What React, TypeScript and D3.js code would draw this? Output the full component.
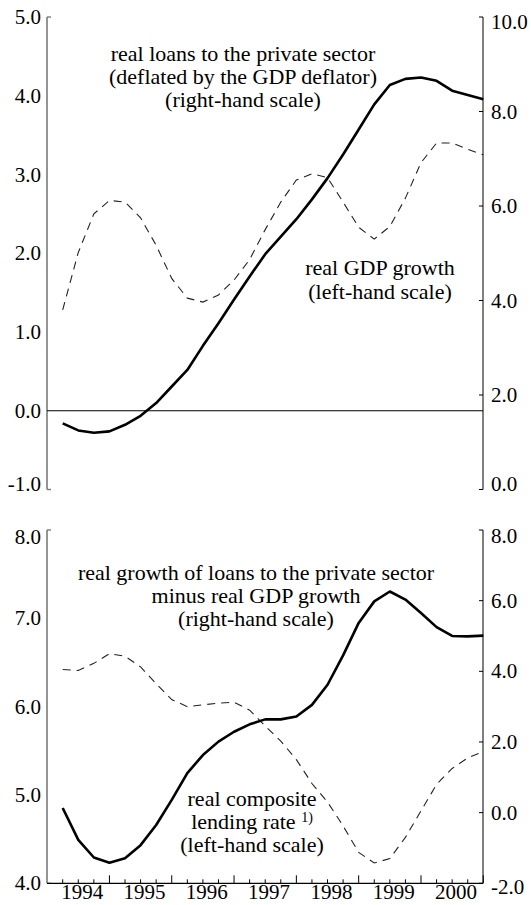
import React from 'react';
import * as d3 from 'd3';

// Quarterly data, 1994 Q1 - 2000 Q4
const years = ['1994', '1995', '1996', '1997', '1998', '1999', '2000'];

// top panel
const realLoans = [1.40, 1.25, 1.20, 1.23, 1.37, 1.56, 1.83, 2.18, 2.53, 3.04, 3.52, 4.02, 4.51, 4.98,
  5.35, 5.72, 6.14, 6.59, 7.09, 7.62, 8.15, 8.56, 8.69, 8.72, 8.65, 8.44, 8.35, 8.26];
const realGdp = [1.28, 2.01, 2.50, 2.67, 2.65, 2.45, 2.10, 1.68, 1.43, 1.38, 1.47, 1.66, 1.92, 2.30,
  2.65, 2.93, 3.01, 2.96, 2.65, 2.33, 2.18, 2.34, 2.70, 3.15, 3.40, 3.40, 3.32, 3.25];

// bottom panel
const loansMinusGdp = [0.13, -0.77, -1.27, -1.42, -1.29, -0.92, -0.35, 0.36, 1.12, 1.63, 2.01, 2.29, 2.50, 2.64,
  2.64, 2.72, 3.05, 3.62, 4.45, 5.37, 5.98, 6.26, 6.03, 5.65, 5.25, 5.00, 4.99, 5.01];
const lendingRate = [6.42, 6.41, 6.49, 6.60, 6.57, 6.45, 6.26, 6.08, 6.00, 6.02, 6.04, 6.05, 5.96, 5.78,
  5.61, 5.40, 5.13, 4.92, 4.65, 4.35, 4.23, 4.28, 4.52, 4.82, 5.12, 5.30, 5.42, 5.49];

const topLeftTicks = [-1, 0, 1, 2, 3, 4, 5];
const topRightTicks = [0, 2, 4, 6, 8, 10];
const botLeftTicks = [4, 5, 6, 7, 8];
const botRightTicks = [-2, 0, 2, 4, 6, 8];

const FONT = '"Liberation Serif", "Times New Roman", serif';
const FS = 21;
const FA = 22;

const AX_L = 47;
const AX_R = 483;

const fmt = (v: number) => d3.format('.1f')(v).replace('\u2212', '-');

export default function App() {
  const n = realLoans.length;
  const x = d3.scaleLinear().domain([0, n - 1]).range([62.7, 483.3]);

  const yTL = d3.scaleLinear().domain([-1, 5]).range([489.5, 17]);
  const yTR = d3.scaleLinear().domain([0, 10]).range([489.5, 17]);
  const yBL = d3.scaleLinear().domain([4, 8]).range([883.3, 530]);
  const yBR = d3.scaleLinear().domain([-2, 8]).range([883.3, 530]);

  const mk = (y: d3.ScaleLinear<number, number>) =>
    d3.line<number>().x((_, i) => x(i)).y((d) => y(d)).curve(d3.curveLinear);

  const leftAxis = (y: d3.ScaleLinear<number, number>, ticks: number[], nudge: Record<string, number>) => {
    const [d0, d1] = y.domain();
    return (
      <g>
        <line x1={AX_L} x2={AX_L} y1={y(d0)} y2={y(d1)} stroke="#7a7a7a" strokeWidth={1.6} />
        <line x1={AX_L} x2={AX_L + 4} y1={y(d1)} y2={y(d1)} stroke="#7a7a7a" strokeWidth={1.4} />
        <line x1={AX_L} x2={AX_L + 4} y1={y(d0)} y2={y(d0)} stroke="#7a7a7a" strokeWidth={1.4} />
        {ticks.map((t) => (
          <text key={t} x={41} y={y(t) + (nudge[String(t)] || 0)} dy="0.34em" textAnchor="end"
            fontFamily={FONT} fontSize={FS} fill="#000">{fmt(t)}</text>
        ))}
      </g>
    );
  };

  const rightAxis = (y: d3.ScaleLinear<number, number>, ticks: number[], nudge: Record<string, number>) => {
    const [d0, d1] = y.domain();
    return (
      <g>
        <line x1={AX_R} x2={AX_R} y1={y(d0)} y2={y(d1)} stroke="#000" strokeWidth={1} />
        {ticks.map((t) => (
          <line key={'t' + t} x1={AX_R - 4} x2={AX_R} y1={y(t)} y2={y(t)} stroke="#000" strokeWidth={1} />
        ))}
        {ticks.map((t) => (
          <text key={t} x={491} y={y(t) + (nudge[String(t)] || 0)} dy="0.34em" textAnchor="start"
            fontFamily={FONT} fontSize={FS} fill="#000">{fmt(t)}</text>
        ))}
      </g>
    );
  };

  const tickIdx = d3.range(0, n);

  return (
    <svg width={531} height={905} style={{ position: 'absolute', left: 0, top: 0, background: '#fff' }}>
      <rect x={0} y={0} width={531} height={905} fill="#fff" />

      {/* ---------- top panel ---------- */}
      {leftAxis(yTL, topLeftTicks, { '-1': -6 })}
      {rightAxis(yTR, topRightTicks, { '0': -6, '10': 5 })}
      <line x1={AX_L} x2={AX_R} y1={yTL(0)} y2={yTL(0)} stroke="#000" strokeWidth={1} />
      <path d={mk(yTL)(realGdp) || ''} fill="none" stroke="#222" strokeWidth={1.1} strokeDasharray="8,6" />
      <path d={mk(yTR)(realLoans) || ''} fill="none" stroke="#000" strokeWidth={2.6} strokeLinejoin="round" />

      <g fontFamily={FONT} fontSize={FA} fill="#000" textAnchor="middle">
        <text x={243} y={61}>real loans to the private sector</text>
        <text x={243} y={84}>(deflated by the GDP deflator)</text>
        <text x={243} y={107}>(right-hand scale)</text>
        <text x={380} y={275}>real GDP growth</text>
        <text x={380} y={299}>(left-hand scale)</text>
      </g>

      {/* ---------- bottom panel ---------- */}
      {leftAxis(yBL, botLeftTicks, { '8': 7 })}
      {rightAxis(yBR, botRightTicks, { '8': 6, '-2': 4 })}
      <line x1={AX_L} x2={AX_R} y1={yBL(4)} y2={yBL(4)} stroke="#000" strokeWidth={1.2} />
      {tickIdx.map((i) => {
        const major = (i + 1) % 4 === 0;
        return (
          <line key={'xt' + i} x1={x(i)} x2={x(i)} y1={yBL(4)} y2={yBL(4) - (major ? 8 : 4)}
            stroke="#000" strokeWidth={1} />
        );
      })}
      {years.map((yr, k) => (
        <text key={yr} x={x(k * 4 + 1.25)} y={899} textAnchor="middle" fontFamily={FONT} fontSize={FS}
          fill="#000">{yr}</text>
      ))}
      <path d={mk(yBL)(lendingRate) || ''} fill="none" stroke="#222" strokeWidth={1.1} strokeDasharray="8,6" />
      <path d={mk(yBR)(loansMinusGdp) || ''} fill="none" stroke="#000" strokeWidth={2.6} strokeLinejoin="round" />

      <g fontFamily={FONT} fontSize={FA} fill="#000" textAnchor="middle">
        <text x={256} y={580}>real growth of loans to the private sector</text>
        <text x={256} y={603}>minus real GDP growth</text>
        <text x={256} y={626}>(right-hand scale)</text>
        <text x={252} y={806}>real composite</text>
        <text x={252} y={829}>lending rate <tspan fontSize={14} dy={-7}>1)</tspan></text>
        <text x={252} y={852}>(left-hand scale)</text>
      </g>
    </svg>
  );
}
